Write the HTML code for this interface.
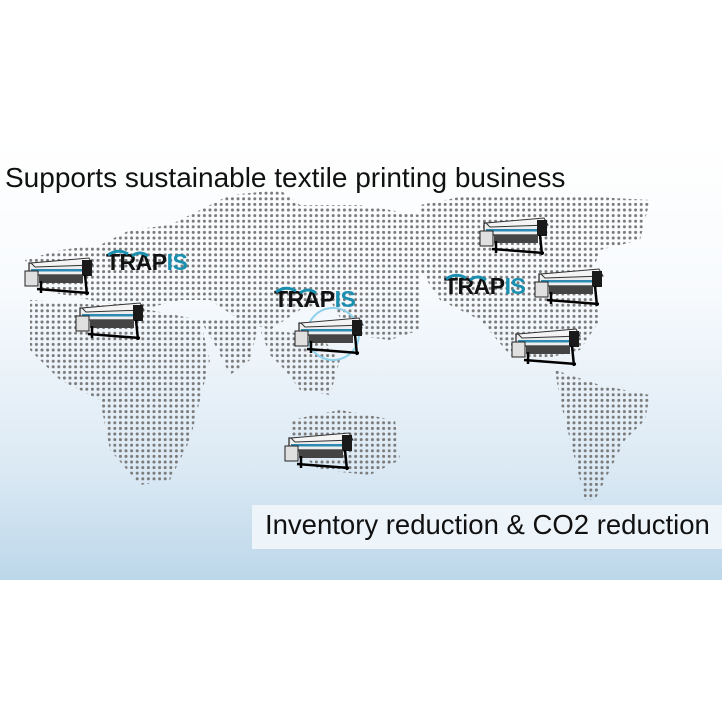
<!DOCTYPE html>
<html><head><meta charset="utf-8"><style>
html,body{margin:0;padding:0;background:#fff;}
#c{position:relative;width:722px;height:722px;overflow:hidden;background:#fff;font-family:"Liberation Sans",sans-serif;}
.slide{position:absolute;left:0;top:140px;width:722px;height:440px;background:linear-gradient(#ffffff 0%,#f7fafd 35%,#dbe9f4 75%,#bcd7ea 100%);}
.t1{position:absolute;left:5px;top:162px;font-size:28px;color:#111;white-space:nowrap;}
.box{position:absolute;left:252px;top:505px;width:470px;height:44px;background:rgba(240,246,251,0.92);}
.t2{position:absolute;left:265px;top:509px;font-size:27.5px;color:#111;white-space:nowrap;}
</style></head><body><div id="c">
<div class="slide"></div>
<svg width="722" height="722" style="position:absolute;left:0;top:0">
<defs>
<pattern id="d" x="0" y="0" width="5.6" height="5.6" patternUnits="userSpaceOnUse"><circle cx="2.8" cy="2.8" r="1.5" fill="#7a7a7a"/></pattern>
<g id="pr">
<rect x="4" y="8" width="62" height="12" fill="#eee" stroke="#222" stroke-width="1.2"/>
<polygon points="6,8 64,3 68,10 10,12" fill="#f4f4f4" stroke="#333" stroke-width="1"/>
<rect x="6" y="14" width="58" height="2.5" fill="#2f8ab2"/>
<rect x="57" y="5" width="10" height="16" fill="#1a1a1a"/>
<rect x="0" y="16" width="13" height="15" fill="#e0e0e0" stroke="#222" stroke-width="1"/>
<rect x="14" y="20" width="44" height="8" fill="#444"/>
<line x1="16" y1="26" x2="16" y2="38" stroke="#000" stroke-width="2.5"/>
<line x1="60" y1="20" x2="62" y2="40" stroke="#000" stroke-width="2.5"/>
<line x1="12" y1="34" x2="64" y2="38" stroke="#000" stroke-width="2.5"/>
</g>
<g id="tr">
<text x="0" y="21" font-family="Liberation Sans" font-weight="bold" font-size="23" fill="#111" letter-spacing="-0.5">TRAP<tspan fill="#1a8fb0">IS</tspan></text>
<path d="M2,6 Q12,-1 22,5 M26,7 Q34,1 42,7" stroke="#1a8fb0" stroke-width="3" fill="none"/>
</g>
</defs>
<g fill="url(#d)">
<polygon points="230,195 280,190 300,205 360,205 420,215 420,330 390,340 350,335 330,300 300,310 270,330 240,320 210,300 180,300 140,310 90,300 40,290 25,260 60,250 100,245 130,230 170,225 200,210"/>
<polygon points="30,300 100,305 150,310 200,320 210,360 200,400 190,440 170,480 140,485 110,450 100,400 60,380 30,350"/>
<polygon points="200,320 260,320 250,360 230,375 215,345"/>
<polygon points="260,330 320,335 340,360 330,395 300,390 285,370 270,355"/>
<polygon points="290,420 340,410 395,420 400,460 370,475 320,470 295,450"/>
<polygon points="420,205 470,195 560,195 650,200 640,240 600,250 590,280 600,320 580,350 540,360 510,355 480,320 440,300 420,270"/>
<polygon points="555,370 600,385 650,395 645,420 625,440 610,470 595,500 585,500 570,440 560,400"/>
</g>
<circle cx="333" cy="334" r="26" fill="none" stroke="#8fd0ea" stroke-width="2"/>
<use href="#pr" x="25" y="255"/>
<use href="#pr" x="76" y="300"/>
<use href="#pr" x="295" y="315"/>
<use href="#pr" x="285" y="430"/>
<use href="#pr" x="480" y="215"/>
<use href="#pr" x="535" y="266"/>
<use href="#pr" x="512" y="326"/>
<use href="#tr" x="106" y="249"/>
<use href="#tr" x="274" y="286"/>
<use href="#tr" x="444" y="273"/>
</svg>
<div class="t1">Supports sustainable textile printing business</div>
<div class="box"></div>
<div class="t2">Inventory reduction &amp; CO2 reduction</div>
</div></body></html>
